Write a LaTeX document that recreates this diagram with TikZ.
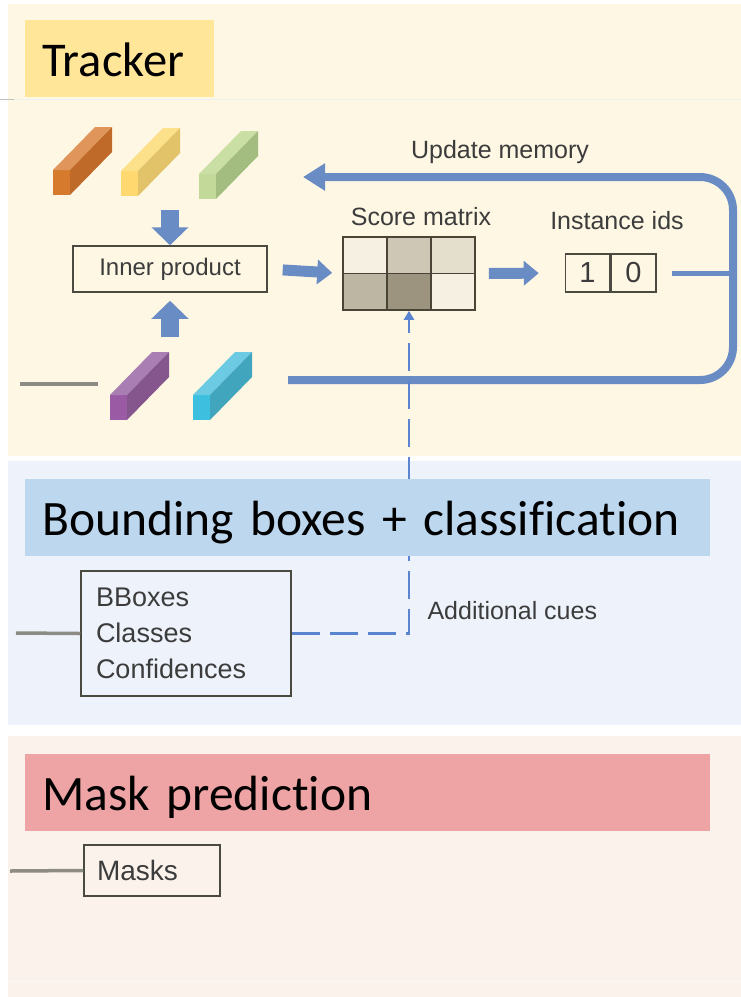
\documentclass[tikz,border=0pt]{standalone}
\usepackage{fontspec}
\setmainfont{Liberation Sans}
\newfontfamily\titlefont[Ligatures=NoCommon]{Carlito}
\usetikzlibrary{arrows.meta,calc}

% panel and label colours
\definecolor{creampanel}{HTML}{FEF7E4}
\definecolor{bluepanel}{HTML}{EEF3FB}
\definecolor{redpanel}{HTML}{FBF2EC}
\definecolor{yellowlabel}{HTML}{FFE699}
\definecolor{bluelabel}{HTML}{BDD7EE}
\definecolor{redlabel}{HTML}{EEA3A4}
% diagram colours
\definecolor{flowblue}{HTML}{6A8CC4}
\definecolor{cueblue}{HTML}{5A84D0}
\definecolor{boxline}{HTML}{4A4A40}
\definecolor{txt}{HTML}{3C3C3C}
\definecolor{wire}{HTML}{8C8C84}
\definecolor{gridline}{HTML}{4A4436}
% score matrix cells
\definecolor{mA}{HTML}{F6F0E2}
\definecolor{mB}{HTML}{CEC7B5}
\definecolor{mC}{HTML}{E4DECD}
\definecolor{mD}{HTML}{BDB6A3}
\definecolor{mE}{HTML}{9C947F}
\definecolor{mF}{HTML}{F6F0E2}
% feature bars: front / top / side
\definecolor{orF}{HTML}{D67A2E}\definecolor{orT}{HTML}{E0965A}\definecolor{orS}{HTML}{C06A2A}
\definecolor{yeF}{HTML}{FFD970}\definecolor{yeT}{HTML}{FCE08A}\definecolor{yeS}{HTML}{E2C36A}
\definecolor{grF}{HTML}{C2D99A}\definecolor{grT}{HTML}{CADFA4}\definecolor{grS}{HTML}{A3BC80}
\definecolor{puF}{HTML}{9A5AA4}\definecolor{puT}{HTML}{A87EB3}\definecolor{puS}{HTML}{85568E}
\definecolor{cyF}{HTML}{3DBFE0}\definecolor{cyT}{HTML}{6CCAE2}\definecolor{cyS}{HTML}{42A5BE}

% a slanted feature bar; #1,#2 = lower-left corner of the front face
\newcommand\featbar[5]{%
  \fill[#3] (#1,#2) rectangle ++(17,-25);
  \fill[#4] (#1,#2-25) -- ++(17,0) -- ++(42,-43) -- ++(-17,0) -- cycle;
  \fill[#5] (#1+17,#2) -- ++(0,-25) -- ++(42,-43) -- ++(0,25) -- cycle;
}

\begin{document}
\begin{tikzpicture}[x=1pt,y=-1pt,
  titlebox/.style={anchor=north west, inner xsep=17pt, inner ysep=0pt,
    text height=35pt, text depth=0pt, align=left, minimum height=77pt,
    font=\titlefont\fontsize{49.5}{50}\selectfont, text=black},
  plainbox/.style={draw=boxline, line width=1.5pt, text=txt},
  lbl/.style={text=txt, font=\fontsize{25}{28}\selectfont},
  blockarrow/.style={draw=flowblue, line width=18pt, -{Triangle[width=36pt,length=18pt]}},
  thinarrow/.style={draw=flowblue, line width=11pt, -{Triangle[width=24pt,length=15pt]}},
  loopline/.style={draw=flowblue, line width=8pt},
  cueline/.style={draw=cueblue, line width=2.8pt, dash pattern=on 28pt off 10pt},
  wireline/.style={draw=wire, line width=3.5pt},
]
\useasboundingbox (0,0) rectangle (741,997);

% ---- background panels ----
\fill[creampanel] (8,4) rectangle (741,456);
\draw[black!6, line width=0.6pt] (8,99.5) -- (741,99.5);
\draw[black!25, line width=1pt] (0,99.5) -- (14,99.5);
\fill[bluepanel] (8,461) rectangle (741,725);
\fill[redpanel] (8,736) rectangle (741,997);
\draw[black!6, line width=0.8pt] (8,978) -- (741,978);

% ---- feature bars ----
\featbar{53}{195}{orF}{orT}{orS}
\featbar{121}{196}{yeF}{yeT}{yeS}
\featbar{199}{199}{grF}{grT}{grS}
\featbar{110}{420}{puF}{puT}{puS}
\featbar{193}{420}{cyF}{cyT}{cyS}

% ---- tracker nodes ----
\node[plainbox, minimum width=194pt, minimum height=46pt, font=\fontsize{24}{26}\selectfont]
  (ip) at (170,269) {Inner product};

\node[draw=gridline, line width=1.6pt, minimum width=132pt, minimum height=73pt,
  path picture={
    \foreach \c [count=\i from 0] in {mA,mB,mC}
      \fill[\c] ($(path picture bounding box.north west)+(\i*44,0)$) rectangle ++(44,36.5);
    \foreach \c [count=\i from 0] in {mD,mE,mF}
      \fill[\c] ($(path picture bounding box.west)+(\i*44,0)$) rectangle ++(44,36.5);
    \draw[gridline, line width=1.6pt]
      ($(path picture bounding box.north west)+(44,0)$) -- ++(0,73)
      ($(path picture bounding box.north west)+(88,0)$) -- ++(0,73)
      (path picture bounding box.west) -- (path picture bounding box.east);
  }] (sm) at (409,273.5) {};
\node[lbl] (smlabel) at (421,217) {Score matrix};

\node[plainbox, minimum width=44pt, minimum height=38pt, inner sep=0pt,
  font=\fontsize{29}{30}\selectfont] (id1) at (587.5,273) {1};
\node[plainbox, minimum width=45pt, minimum height=38pt, inner sep=0pt,
  font=\fontsize{29}{30}\selectfont, anchor=west] (id0) at (id1.east) {0};
\node[lbl] (idlabel) at (617,221) {Instance ids};
\node[lbl] (memlabel) at (500,152) {Update memory};

% ---- block arrows ----
\coordinate (topfeat) at (170,210);
\coordinate (botfeat) at (170,337);
\draw[blockarrow] (topfeat) -- (ip.north);
\draw[blockarrow, shorten >=8pt] (botfeat) -- (ip.south);
\draw[thinarrow, shorten <=15pt, shorten >=10pt] (ip.east) -- (sm.west);
\draw[thinarrow, shorten <=13pt, shorten >=26pt] (sm.east) -- (id0.west -| id1.west);

% ---- memory update loop ----
\coordinate (loopstart) at (288,380);
\coordinate (loopright) at (733,380);
\coordinate (looptop) at (733,177);
\coordinate (memin) at (303,177);
\draw[flowblue, line width=5pt, shorten <=15pt] (id0.east) -- (id0.east -| looptop);
\draw[loopline, rounded corners=33pt, -{Triangle[width=26pt,length=22pt]}]
  (loopstart) -- (loopright) -- (looptop) -- (memin);

% ---- wires from the left ----
\coordinate (wireA) at (20,384);
\coordinate (wireAend) at (98,384);
\draw[wireline] (wireA) -- (wireAend);

% ---- detection section ----
\node[plainbox, minimum width=210pt, minimum height=125pt, text width=180pt,
  inner xsep=15pt, align=left, font=\fontsize{27}{36}\selectfont]
  (bb) at (186,633.5) {BBoxes\\Classes\\Confidences};
\coordinate (wireB) at (16,633);
\draw[wireline] (wireB) -- (bb.west);

\draw[cueline, -{Triangle[width=10pt,length=9pt]}] (bb.east) -| (sm.south);
\node[lbl, anchor=west] (cues) at (424,611) {Additional cues};

% ---- section titles ----
\node[titlebox, fill=yellowlabel, minimum width=189pt, text width=155pt,
  font=\titlefont\fontsize{48.5}{50}\selectfont]
  (trk) at (25,20) {Tracker};
\node[titlebox, fill=bluelabel, minimum width=685pt, text width=651pt]
  (det) at (25,479) {Bounding boxes + classification};
\node[titlebox, fill=redlabel, minimum width=685pt, text width=651pt]
  (seg) at (25,754) {Mask prediction};

% ---- mask section ----
\node[plainbox, minimum width=136pt, minimum height=51pt, text width=110pt,
  inner xsep=13pt, align=left, font=\fontsize{28}{30}\selectfont]
  (mk) at (152,870.5) {Masks};
\coordinate (wireC) at (10,871);
\draw[wireline] (wireC) -- (mk.west);
\end{tikzpicture}
\end{document}
